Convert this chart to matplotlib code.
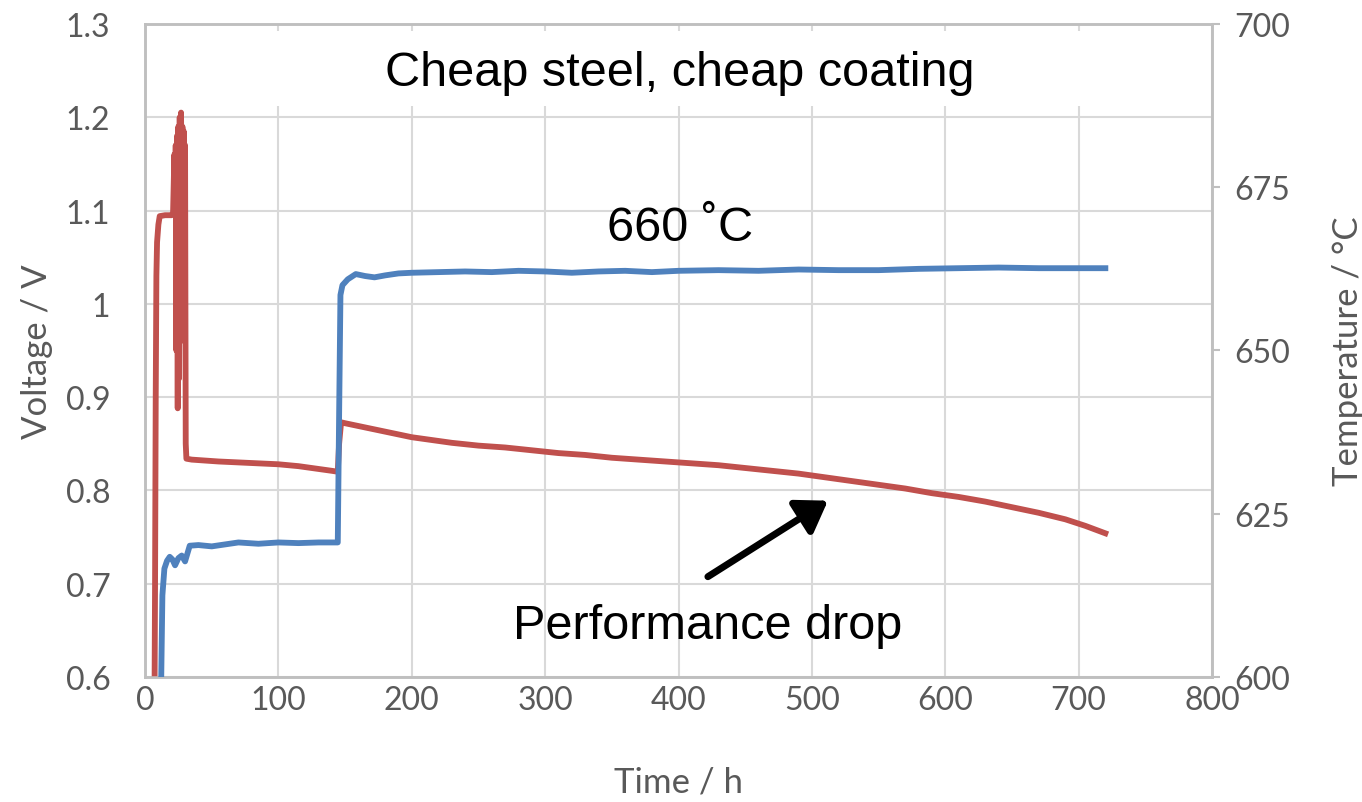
import matplotlib
matplotlib.use("Agg")
import matplotlib.pyplot as plt
from matplotlib.patches import Rectangle

# cell voltage, hours on test
time_v = [7, 7.5, 8, 8.5, 9, 10, 11, 15, 20, 21,
          22, 22.5, 23, 23.5, 24, 24.5, 25, 25.5, 26, 26.5,
          27, 27.5, 28, 28.5, 29, 29.5, 30, 30.5, 31, 35,
          45, 55, 70, 85, 100, 115, 130, 140, 144.5, 145.5,
          147, 150, 160, 170, 180, 190, 200, 215, 230, 250,
          270, 290, 310, 330, 350, 370, 390, 410, 430, 450,
          470, 490, 510, 530, 550, 570, 590, 610, 630, 650,
          670, 690, 705, 720]
voltage = [0.55, 0.70, 0.90, 1.03, 1.066, 1.085, 1.094, 1.095, 1.095, 1.097,
           1.16, 1.10, 1.17, 0.95, 1.18, 0.888, 1.19, 0.92, 1.20, 1.00,
           1.205, 1.05, 1.19, 0.99, 1.185, 0.96, 1.17, 0.85, 0.834, 0.833,
           0.832, 0.831, 0.830, 0.829, 0.828, 0.826, 0.823, 0.821, 0.820, 0.850,
           0.873, 0.872, 0.869, 0.866, 0.863, 0.860, 0.857, 0.854, 0.851, 0.848,
           0.846, 0.843, 0.840, 0.838, 0.835, 0.833, 0.831, 0.829, 0.827, 0.824,
           0.821, 0.818, 0.814, 0.810, 0.806, 0.802, 0.797, 0.793, 0.788, 0.782,
           0.776, 0.769, 0.762, 0.754]

# furnace temperature
time_t = [12, 13, 14.5, 16.5, 18.5, 20.5, 22.5, 25, 27.5, 30,
          33.5, 40, 50, 60, 70, 85, 100, 115, 130, 144.5,
          145.5, 146.5, 148, 152, 158, 165, 172, 180, 190, 200,
          220, 240, 260, 280, 300, 320, 340, 360, 380, 400,
          430, 460, 490, 520, 550, 580, 610, 640, 670, 700,
          720]
temperature = [598, 612.5, 616.6, 617.8, 618.4, 618.0, 617.1, 618.2, 618.6, 617.7,
               620.1, 620.2, 620.0, 620.3, 620.6, 620.4, 620.6, 620.5, 620.6, 620.6,
               640.0, 658.5, 660.0, 660.9, 661.7, 661.4, 661.2, 661.5, 661.8, 661.9,
               662.0, 662.1, 662.0, 662.2, 662.1, 661.9, 662.1, 662.2, 662.0, 662.2,
               662.3, 662.2, 662.4, 662.3, 662.3, 662.5, 662.6, 662.7, 662.6, 662.6,
               662.6]

x_ticks = [0, 100, 200, 300, 400, 500, 600, 700, 800]
v_ticks = [0.6, 0.7, 0.8, 0.9, 1.0, 1.1, 1.2, 1.3]
v_labels = ["0.6", "0.7", "0.8", "0.9", "1", "1.1", "1.2", "1.3"]
t_ticks = [600, 625, 650, 675, 700]

RED = "#C0504D"
BLUE = "#4F81BD"
GRID = "#D9D9D9"
SPINE = "#BFBFBF"
LABEL = "#595959"
TICK_FONT = "Lato"
NOTE_FONT = "Liberation Sans"

fig = plt.figure(figsize=(13.62, 8.03), dpi=100)
ax = fig.add_axes([0.1065, 0.1557, 0.7834, 0.8132])
ax2 = ax.twinx()

ax.set_xlim(0, 800)
ax.set_ylim(0.6, 1.3)
ax2.set_ylim(600, 700)

ax.set_xticks(x_ticks)
ax.set_yticks(v_ticks)
ax.set_yticklabels(v_labels)
ax2.set_yticks(t_ticks)

ax.grid(True, color=GRID, lw=1.5)
ax.set_axisbelow(True)

for a in (ax, ax2):
    for s in a.spines.values():
        s.set_color(SPINE)
        s.set_linewidth(1.8)
ax.tick_params(axis="y", length=0, pad=25, labelsize=23, labelcolor=LABEL)
ax.tick_params(axis="x", length=0, pad=6, labelsize=23, labelcolor=LABEL)
ax2.tick_params(axis="y", length=6, width=1.5, color=SPINE, pad=10,
                labelsize=23, labelcolor=LABEL)
for lab in ax.get_xticklabels() + ax.get_yticklabels() + ax2.get_yticklabels():
    lab.set_family(TICK_FONT)

ax.set_xlabel("Time / h", fontsize=25, color=LABEL, family=TICK_FONT, labelpad=36)
ax.set_ylabel("Voltage / V", fontsize=25, color=LABEL, family=TICK_FONT, labelpad=9)
ax2.set_ylabel("Temperature / °C", fontsize=25, color=LABEL, family=TICK_FONT, labelpad=30)

# white panel behind the heading
ax.add_patch(Rectangle((0.122, 0.875), 0.759, 0.115, transform=ax.transAxes,
                       facecolor="white", edgecolor="none", zorder=1.5))

ax.plot(time_v, voltage, color=RED, lw=4.2, solid_joinstyle="round", zorder=3)
ax2.plot(time_t, temperature, color=BLUE, lw=4.2, solid_joinstyle="round", zorder=3)

ax.text(401, 1.248, "Cheap steel, cheap coating", fontsize=35, family=NOTE_FONT,
        ha="center", va="center", zorder=4)
ax.text(401, 1.082, "660 ˚C", fontsize=35, family=NOTE_FONT,
        ha="center", va="center", zorder=4)
ax.text(422, 0.655, "Performance drop", fontsize=35, family=NOTE_FONT,
        ha="center", va="center", zorder=4)
ax.annotate("", xy=(512, 0.789), xytext=(422, 0.7075),
            arrowprops=dict(arrowstyle="-|>,head_length=0.6,head_width=0.4",
                            lw=5, color="black", mutation_scale=30,
                            shrinkA=0, shrinkB=0), zorder=4)

fig.savefig("out.png", dpi=100)
